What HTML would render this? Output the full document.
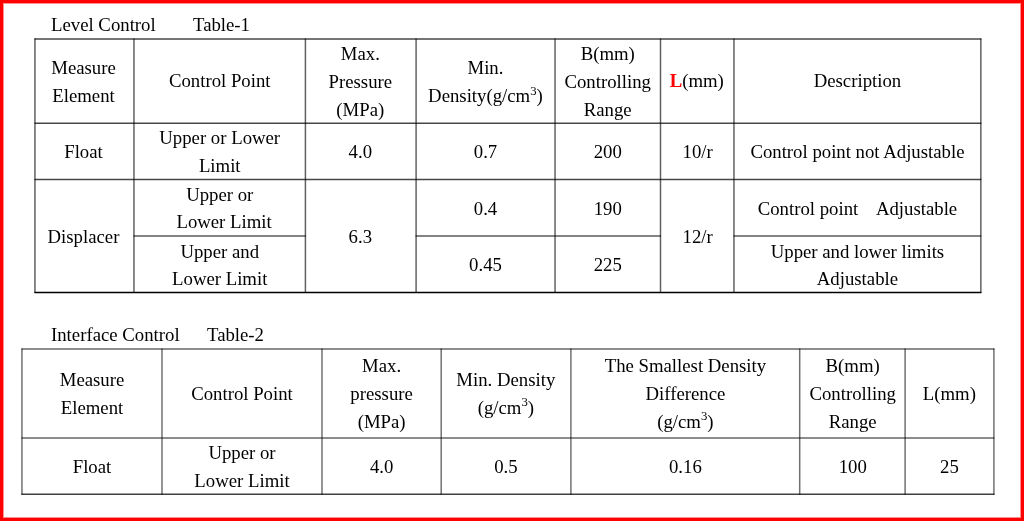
<!DOCTYPE html>
<html><head><meta charset="utf-8"><title>Level Control / Interface Control</title>
<style>
html,body{margin:0;padding:0;background:#fff;}
body{width:1024px;height:521px;position:relative;overflow:hidden;
 font-family:"Liberation Serif","Times New Roman",serif;font-size:18.75px;color:#000;}
.frame{position:absolute;left:0;top:0;width:1024px;height:521px;box-sizing:border-box;
 border:3px solid #f00;box-shadow:inset 0 0 0 1px rgba(255,0,0,.44);}
.content{position:absolute;left:0;top:0;width:1024px;height:521px;}
.grid{position:absolute;left:0;top:0;}
.grid line{stroke:#000;}
.cell{position:absolute;will-change:transform;display:flex;align-items:center;justify-content:center;
 text-align:center;line-height:28px;white-space:nowrap;}
.cap{position:absolute;will-change:transform;white-space:nowrap;line-height:28px;}
.sup{font-size:0.68em;position:relative;top:-0.58em;line-height:0;}
.red{color:#f00;}
</style></head><body>
<div class="frame"></div>
<div class="content">

<svg class="grid" width="1024" height="521" viewBox="0 0 1024 521">
<line x1="34.44" y1="38.98" x2="981.35" y2="38.98" stroke-width="1.6" stroke-opacity="0.72"/>
<line x1="34.44" y1="123.2" x2="981.35" y2="123.2" stroke-width="1.6" stroke-opacity="0.72"/>
<line x1="34.44" y1="179.55" x2="981.35" y2="179.55" stroke-width="1.6" stroke-opacity="0.72"/>
<line x1="34.44" y1="292.5" x2="981.35" y2="292.5" stroke-width="1.7" stroke-opacity="1"/>
<line x1="133.45" y1="236" x2="305.92" y2="236" stroke-width="1.5" stroke-opacity="0.65"/>
<line x1="415.6" y1="236" x2="661" y2="236" stroke-width="1.5" stroke-opacity="0.65"/>
<line x1="733.45" y1="236" x2="981.35" y2="236" stroke-width="1.5" stroke-opacity="0.65"/>
<line x1="34.94" y1="38.48" x2="34.94" y2="293" stroke-width="1.5" stroke-opacity="0.62"/>
<line x1="133.95" y1="38.48" x2="133.95" y2="293" stroke-width="1.5" stroke-opacity="0.62"/>
<line x1="305.42" y1="38.48" x2="305.42" y2="293" stroke-width="1.5" stroke-opacity="0.62"/>
<line x1="416.1" y1="38.48" x2="416.1" y2="293" stroke-width="1.5" stroke-opacity="0.62"/>
<line x1="555.05" y1="38.48" x2="555.05" y2="293" stroke-width="1.5" stroke-opacity="0.62"/>
<line x1="660.5" y1="38.48" x2="660.5" y2="293" stroke-width="1.5" stroke-opacity="0.62"/>
<line x1="733.95" y1="38.48" x2="733.95" y2="293" stroke-width="1.5" stroke-opacity="0.62"/>
<line x1="980.85" y1="38.48" x2="980.85" y2="293" stroke-width="1.5" stroke-opacity="0.62"/>
<line x1="21.44" y1="349" x2="994.4" y2="349" stroke-width="1.5" stroke-opacity="0.6"/>
<line x1="21.44" y1="438" x2="994.4" y2="438" stroke-width="1.5" stroke-opacity="0.6"/>
<line x1="21.44" y1="494.3" x2="994.4" y2="494.3" stroke-width="1.6" stroke-opacity="0.75"/>
<line x1="21.94" y1="348.5" x2="21.94" y2="494.8" stroke-width="1.5" stroke-opacity="0.56"/>
<line x1="161.98" y1="348.5" x2="161.98" y2="494.8" stroke-width="1.5" stroke-opacity="0.56"/>
<line x1="321.98" y1="348.5" x2="321.98" y2="494.8" stroke-width="1.5" stroke-opacity="0.56"/>
<line x1="441.2" y1="348.5" x2="441.2" y2="494.8" stroke-width="1.5" stroke-opacity="0.56"/>
<line x1="570.9" y1="348.5" x2="570.9" y2="494.8" stroke-width="1.5" stroke-opacity="0.56"/>
<line x1="799.7" y1="348.5" x2="799.7" y2="494.8" stroke-width="1.5" stroke-opacity="0.56"/>
<line x1="905.1" y1="348.5" x2="905.1" y2="494.8" stroke-width="1.5" stroke-opacity="0.56"/>
<line x1="993.9" y1="348.5" x2="993.9" y2="494.8" stroke-width="1.5" stroke-opacity="0.56"/>
</svg>
<div class="cap" style="left:51px;top:11px">Level Control</div>
<div class="cap" style="left:193px;top:11px">Table-1</div>
<div class="cap" style="left:51px;top:321px">Interface Control</div>
<div class="cap" style="left:207.3px;top:321px">Table-2</div>
<div class="cell" style="left:34.24px;top:39.58px;width:99.01px;height:84.22px"><div>Measure<br>Element</div></div>
<div class="cell" style="left:133.95px;top:38.58px;width:171.47px;height:84.22px"><div>Control Point</div></div>
<div class="cell" style="left:305.42px;top:39.58px;width:110.68px;height:84.22px"><div>Max.<br>Pressure<br>(MPa)</div></div>
<div class="cell" style="left:416.1px;top:39.58px;width:138.95px;height:84.22px"><div>Min.<br>Density(g/cm<span class="sup">3</span>)</div></div>
<div class="cell" style="left:555.05px;top:39.58px;width:105.45px;height:84.22px"><div>B(mm)<br>Controlling<br>Range</div></div>
<div class="cell" style="left:659.7px;top:38.58px;width:73.45px;height:84.22px"><div><b class="red">L</b>(mm)</div></div>
<div class="cell" style="left:733.95px;top:38.58px;width:246.9px;height:84.22px"><div>Description</div></div>
<div class="cell" style="left:34.24px;top:123.8px;width:99.01px;height:56.35px"><div>Float</div></div>
<div class="cell" style="left:133.95px;top:123.8px;width:171.47px;height:56.35px"><div>Upper or Lower<br>Limit</div></div>
<div class="cell" style="left:305.42px;top:123.8px;width:110.68px;height:56.35px"><div>4.0</div></div>
<div class="cell" style="left:416.1px;top:123.8px;width:138.95px;height:56.35px"><div>0.7</div></div>
<div class="cell" style="left:555.05px;top:123.8px;width:105.45px;height:56.35px"><div>200</div></div>
<div class="cell" style="left:660.5px;top:123.8px;width:73.45px;height:56.35px"><div>10/r</div></div>
<div class="cell" style="left:733.95px;top:123.8px;width:246.9px;height:56.35px"><div>Control point not Adjustable</div></div>
<div class="cell" style="left:34.24px;top:181.15px;width:99.01px;height:112.95px"><div>Displacer</div></div>
<div class="cell" style="left:133.95px;top:181.15px;width:171.47px;height:56.45px"><div>Upper or<br><span style="position:relative;left:2px;top:-1px">&nbsp;Lower Limit</span></div></div>
<div class="cell" style="left:133.95px;top:236.6px;width:171.47px;height:56.5px"><div><span style="position:relative;top:1px">Upper and</span><br>Lower Limit</div></div>
<div class="cell" style="left:305.42px;top:181.15px;width:110.68px;height:112.95px"><div>6.3</div></div>
<div class="cell" style="left:416.1px;top:181.15px;width:138.95px;height:56.45px"><div>0.4</div></div>
<div class="cell" style="left:416.1px;top:236.6px;width:138.95px;height:56.5px"><div>0.45</div></div>
<div class="cell" style="left:555.05px;top:181.15px;width:105.45px;height:56.45px"><div>190</div></div>
<div class="cell" style="left:555.05px;top:236.6px;width:105.45px;height:56.5px"><div>225</div></div>
<div class="cell" style="left:660.5px;top:181.15px;width:73.45px;height:112.95px"><div>12/r</div></div>
<div class="cell" style="left:733.95px;top:181.15px;width:246.9px;height:56.45px"><div>Control point&nbsp;&nbsp;&nbsp; Adjustable</div></div>
<div class="cell" style="left:733.95px;top:236.6px;width:246.9px;height:56.5px"><div><span style="position:relative;top:1px">Upper and lower limits</span><br>Adjustable</div></div>
<div class="cell" style="left:21.94px;top:349.3px;width:140.04px;height:89px"><div>Measure<br>Element</div></div>
<div class="cell" style="left:161.98px;top:349.3px;width:160px;height:89px"><div>Control Point</div></div>
<div class="cell" style="left:321.98px;top:349.3px;width:119.22px;height:89px"><div>Max.<br>pressure<br>(MPa)</div></div>
<div class="cell" style="left:441.2px;top:349.3px;width:129.7px;height:89px"><div>Min. Density<br>(g/cm<span class="sup">3</span>)</div></div>
<div class="cell" style="left:570.9px;top:349.3px;width:228.8px;height:89px"><div>The Smallest Density<br>Difference<br>(g/cm<span class="sup">3</span>)</div></div>
<div class="cell" style="left:799.7px;top:349.3px;width:105.4px;height:89px"><div>B(mm)<br>Controlling<br>Range</div></div>
<div class="cell" style="left:905.1px;top:349.3px;width:88.8px;height:89px"><div>L(mm)</div></div>
<div class="cell" style="left:21.94px;top:439.1px;width:140.04px;height:56.3px"><div>Float</div></div>
<div class="cell" style="left:161.98px;top:439.1px;width:160px;height:56.3px"><div>Upper or<br>Lower Limit</div></div>
<div class="cell" style="left:321.98px;top:439.1px;width:119.22px;height:56.3px"><div>4.0</div></div>
<div class="cell" style="left:441.2px;top:439.1px;width:129.7px;height:56.3px"><div>0.5</div></div>
<div class="cell" style="left:570.9px;top:439.1px;width:228.8px;height:56.3px"><div>0.16</div></div>
<div class="cell" style="left:799.7px;top:439.1px;width:105.4px;height:56.3px"><div>100</div></div>
<div class="cell" style="left:905.1px;top:439.1px;width:88.8px;height:56.3px"><div>25</div></div>
</div>
</body></html>
